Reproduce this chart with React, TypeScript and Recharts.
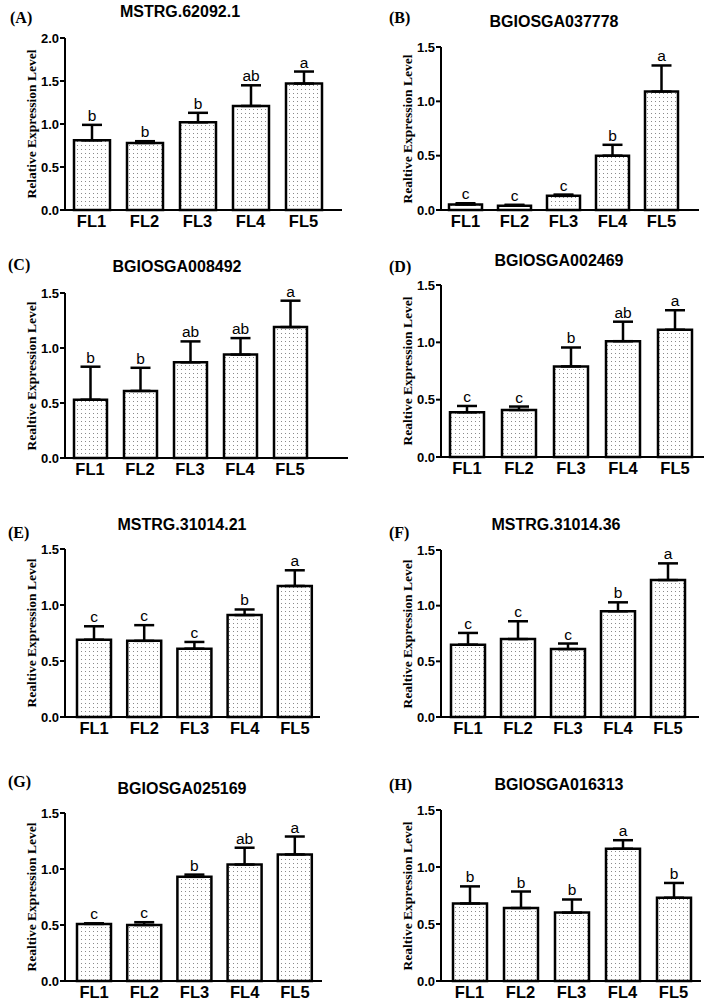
import { Bar, BarChart, ErrorBar, LabelList, XAxis, YAxis } from "recharts";

const stages = ["FL1", "FL2", "FL3", "FL4", "FL5"];

// means, upper SD and significance letters for each gene
const meanA = [0.81, 0.78, 1.02, 1.21, 1.47];
const sdA = [0.18, 0.02, 0.11, 0.24, 0.14];
const letterA = ["b", "b", "b", "ab", "a"];

const meanB = [0.05, 0.04, 0.13, 0.5, 1.09];
const sdB = [0.012, 0.008, 0.012, 0.1, 0.24];
const letterB = ["c", "c", "c", "b", "a"];

const meanC = [0.53, 0.61, 0.87, 0.94, 1.19];
const sdC = [0.3, 0.21, 0.19, 0.15, 0.24];
const letterC = ["b", "b", "ab", "ab", "a"];

const meanD = [0.39, 0.41, 0.79, 1.01, 1.11];
const sdD = [0.055, 0.03, 0.165, 0.17, 0.17];
const letterD = ["c", "c", "b", "ab", "a"];

const meanE = [0.69, 0.68, 0.61, 0.91, 1.17];
const sdE = [0.12, 0.14, 0.06, 0.05, 0.14];
const letterE = ["c", "c", "c", "b", "a"];

const meanF = [0.65, 0.7, 0.61, 0.95, 1.23];
const sdF = [0.105, 0.16, 0.05, 0.08, 0.15];
const letterF = ["c", "c", "c", "b", "a"];

const meanG = [0.51, 0.5, 0.93, 1.04, 1.13];
const sdG = [0.005, 0.025, 0.02, 0.15, 0.16];
const letterG = ["c", "c", "b", "ab", "a"];

const meanH = [0.68, 0.64, 0.6, 1.16, 0.73];
const sdH = [0.15, 0.145, 0.115, 0.075, 0.13];
const letterH = ["b", "b", "b", "a", "b"];

const ticks2 = [0, 0.5, 1, 1.5, 2];
const ticks15 = [0, 0.5, 1, 1.5];

const SANS = "'Liberation Sans', Arial, sans-serif";
const SERIF = "'Liberation Serif', 'Times New Roman', serif";

const buildRows = (means: number[], sds: number[], letters: string[]) =>
    stages.map((stage, i) => ({
        stage,
        mean: means[i],
        sd: sds[i],
        err: [0, sds[i]],
        letter: letters[i],
    }));

const panels = [
    { tag: "(A)", title: "MSTRG.62092.1", yLabel: "Relative Expression Level", rows: buildRows(meanA, sdA, letterA), ticks: ticks2,
      ox: 0, oy: 0, h: 250, axisX: 65, top: 38, zero: 210, right: 12, padL: 0, padR: 12, barSize: 36,
      titleX: 180, titleY: 12, tagX: 10, tagY: 18 },
    { tag: "(B)", title: "BGIOSGA037778", yLabel: "Realtive Expression Level", rows: buildRows(meanB, sdB, letterB), ticks: ticks15,
      ox: 354, oy: 0, h: 250, axisX: 87, top: 47, zero: 210, right: 9, padL: 0, padR: 13, barSize: 33,
      titleX: 554, titleY: 22, tagX: 389, tagY: 18 },
    { tag: "(C)", title: "BGIOSGA008492", yLabel: "Realtive Expression Level", rows: buildRows(meanC, sdC, letterC), ticks: ticks15,
      ox: 0, oy: 240, h: 250, axisX: 65, top: 53, zero: 218, right: 6, padL: 0, padR: 33, barSize: 33,
      titleX: 177, titleY: 267, tagX: 8, tagY: 265 },
    { tag: "(D)", title: "BGIOSGA002469", yLabel: "Realtive Expression Level", rows: buildRows(meanD, sdD, letterD), ticks: ticks15,
      ox: 354, oy: 240, h: 250, axisX: 87, top: 45, zero: 217, right: 4, padL: 0, padR: 3, barSize: 34,
      titleX: 559, titleY: 261, tagX: 389, tagY: 267 },
    { tag: "(E)", title: "MSTRG.31014.21", yLabel: "Realtive Expression Level", rows: buildRows(meanE, sdE, letterE), ticks: ticks15,
      ox: 0, oy: 490, h: 260, axisX: 65, top: 59, zero: 227, right: 34, padL: 4, padR: 0, barSize: 34,
      titleX: 182, titleY: 525, tagX: 8, tagY: 533 },
    { tag: "(F)", title: "MSTRG.31014.36", yLabel: "Realtive Expression Level", rows: buildRows(meanF, sdF, letterF), ticks: ticks15,
      ox: 354, oy: 490, h: 260, axisX: 87, top: 60, zero: 227, right: 9, padL: 2, padR: 6, barSize: 34,
      titleX: 556, titleY: 525, tagX: 389, tagY: 533 },
    { tag: "(G)", title: "BGIOSGA025169", yLabel: "Realtive Expression Level", rows: buildRows(meanG, sdG, letterG), ticks: ticks15,
      ox: 0, oy: 750, h: 256, axisX: 65, top: 63, zero: 231, right: 32, padL: 4, padR: 2, barSize: 34,
      titleX: 182, titleY: 789, tagX: 8, tagY: 782 },
    { tag: "(H)", title: "BGIOSGA016313", yLabel: "Realtive Expression Level", rows: buildRows(meanH, sdH, letterH), ticks: ticks15,
      ox: 354, oy: 750, h: 256, axisX: 87, top: 60, zero: 231, right: 7, padL: 3, padR: 2, barSize: 34,
      titleX: 559, titleY: 785, tagX: 389, tagY: 785 },
];

const Y_AXIS_W = 30;
const X_AXIS_H = 22;

const letterLabel = (rows: any[]) => (props: any) => {
    const { x, y, width, height, index } = props;
    const row = rows[index];
    if (!row) return null;
    const pxPerUnit = row.mean ? Math.abs(height) / row.mean : 0;
    const capY = Number(y) - row.sd * pxPerUnit;
    return (
        <text x={Number(x) + Number(width) / 2} y={capY - 4} textAnchor="middle" fontSize={15.5} fontFamily={SANS} fill="#000">
            {row.letter}
        </text>
    );
};

const Panel = ({ p, idx }: { p: (typeof panels)[number]; idx: number }) => {
    const patternId = `stipple${idx}`;
    const margin = { top: p.top, right: p.right, bottom: p.h - p.zero - X_AXIS_H, left: p.axisX - Y_AXIS_W };
    return (
        <div style={{ position: "absolute", left: p.ox, top: p.oy, width: 354, height: p.h }}>
            <BarChart width={354} height={p.h} data={p.rows} margin={margin} accessibilityLayer={false}>
                <defs>
                    <pattern id={patternId} patternUnits="userSpaceOnUse" width={4} height={4}>
                        <rect width={4} height={4} fill="#fff" />
                        <rect x={1} y={1} width={1} height={1} fill="#8a8a8a" />
                    </pattern>
                </defs>
                <XAxis
                    dataKey="stage"
                    height={X_AXIS_H}
                    padding={{ left: p.padL, right: p.padR }}
                    axisLine={{ stroke: "#000", strokeWidth: 2 }}
                    tickLine={false}
                    tickSize={0}
                    tickMargin={5}
                    tick={{ fill: "#000", fontSize: 16.5, fontWeight: 700, fontFamily: SANS }}
                />
                <YAxis
                    width={Y_AXIS_W}
                    domain={[p.ticks[0], p.ticks[p.ticks.length - 1]]}
                    ticks={p.ticks}
                    interval={0}
                    tickFormatter={(v: number) => v.toFixed(1)}
                    axisLine={{ stroke: "#000", strokeWidth: 2 }}
                    tickLine={{ stroke: "#000", strokeWidth: 2 }}
                    tickSize={5}
                    tickMargin={1}
                    tick={{ fill: "#000", fontSize: 13, fontWeight: 700, fontFamily: SANS }}
                />
                <Bar dataKey="mean" fill={`url(#${patternId})`} stroke="#000" strokeWidth={2.5} barSize={p.barSize} isAnimationActive={false}>
                    <ErrorBar dataKey="err" direction="y" width={10} stroke="#000" strokeWidth={2.5} isAnimationActive={false} />
                    <LabelList dataKey="letter" content={letterLabel(p.rows)} />
                </Bar>
            </BarChart>
        </div>
    );
};

const App = () => {
    return (
        <div style={{ position: "absolute", left: 0, top: 0, width: 708, height: 1006, background: "#fff", overflow: "hidden" }}>
            {panels.map((p, i) => (
                <Panel key={p.tag} p={p} idx={i} />
            ))}
            {panels.map((p) => (
                <div key={p.tag + "-text"}>
                    <div style={{ position: "absolute", left: p.titleX, top: p.titleY, transform: "translate(-50%, -50%)", fontFamily: SANS, fontWeight: 700, fontSize: 16, lineHeight: 1, whiteSpace: "nowrap" }}>
                        {p.title}
                    </div>
                    <div style={{ position: "absolute", left: p.tagX, top: p.tagY, transform: "translateY(-50%)", fontFamily: SERIF, fontWeight: 700, fontSize: 16, lineHeight: 1, whiteSpace: "nowrap" }}>
                        {p.tag}
                    </div>
                    <div style={{ position: "absolute", left: p.ox + p.axisX - 33, top: p.oy + (p.top + p.zero) / 2, transform: "translate(-50%, -50%) rotate(-90deg)", fontFamily: SERIF, fontWeight: 700, fontSize: 13.5, lineHeight: 1, whiteSpace: "nowrap" }}>
                        {p.yLabel}
                    </div>
                </div>
            ))}
        </div>
    );
};

export default App;
